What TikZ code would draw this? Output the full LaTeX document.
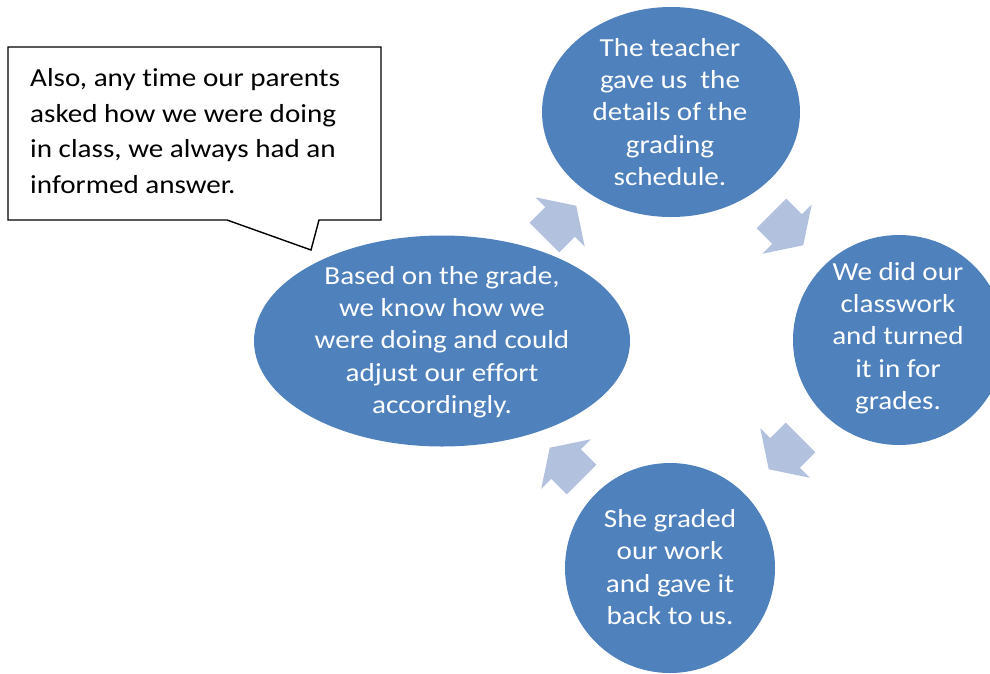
\documentclass[tikz,border=0pt]{standalone}
\usepackage{fontspec}
\setmainfont{Carlito}[FakeStretch=1.12, Ligatures=NoCommon]
\usetikzlibrary{shapes.geometric}
\definecolor{blobblue}{HTML}{4F81BD}
\definecolor{arrowblue}{HTML}{B2C1DD}
\tikzset{
  blob/.style={ellipse, fill=blobblue, draw=none, inner sep=0pt},
  blobtext/.style={text=white, align=center, inner sep=0pt, font=\fontsize{26}{32.3}\selectfont},
  calltext/.style={text=black, align=left, inner sep=0pt, anchor=west, font=\fontsize{26}{35.7}\selectfont},
  callbox/.style={draw=black, line width=1.4pt, fill=white, line join=miter},
  cyclearrow/.style={fill=arrowblue, draw=none}
}
\newcommand{\blockarrow}[3]{%
  \fill[cyclearrow, shift={(#1,#2)}, rotate=#3]
    (-22,-21) -- (0,-21) -- (0,-35) -- (23,0) -- (0,35) -- (0,21) -- (-22,21) -- cycle;}
\begin{document}
\begin{tikzpicture}[x=1pt,y=-1pt]
  \useasboundingbox (0,0) rectangle (990,673);
  \clip (0,0) rectangle (990,673);
  % ellipses
  \node (top) [blob, minimum width=258pt, minimum height=210pt] at (671,112) {};
  \node (right) [blob, minimum width=212pt, minimum height=210pt] at (899,340) {};
  \node (bottom) [blob, minimum width=210pt, minimum height=210pt] at (670,568) {};
  \node (left) [blob, minimum width=376pt, minimum height=211pt] at (442,341) {};
  \node (toptext) [blobtext] at (670,112) {The teacher\\gave us\ \ the\\details of the\\grading\\schedule.};
  \node (righttext) [blobtext] at (898,338) {We did our\\classwork\\and turned\\it in for\\grades.};
  \node (bottomtext) [blobtext] at (670,567) {She graded\\our work\\and gave it\\back to us.};
  \node (lefttext) [blobtext] at (442,342) {Based on the grade,\\we know how we\\were doing and could\\adjust our effort\\accordingly.};
  % block arrows
  \blockarrow{560}{222}{45}
  \blockarrow{787}{229}{-45}
  \blockarrow{785}{453}{-135}
  \blockarrow{566}{464}{135}
  % callout
  \draw[callbox] (8,47) -- (381,47) -- (381,220) -- (319,220) -- (311,250) -- (227,220) -- (8,220) -- cycle;
  \node (calltxt) [calltext] at (30,131) {Also, any time our parents\\asked how we were doing\\in class, we always had an\\informed answer.};
\end{tikzpicture}
\end{document}
